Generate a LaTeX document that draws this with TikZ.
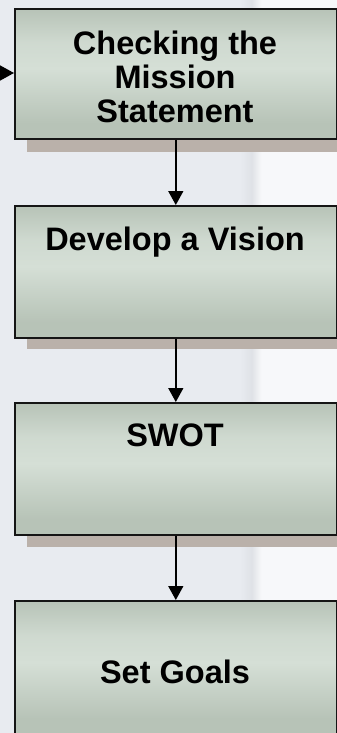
\documentclass[tikz,border=0pt]{standalone}
\usepackage{fontspec}
\setmainfont{Liberation Sans}
\usetikzlibrary{arrows.meta}

\definecolor{bgbase}{HTML}{E8EBF0}
\definecolor{bglight}{HTML}{F7F8FA}
\definecolor{bxdark}{HTML}{B7C3B7}
\definecolor{bxlight}{HTML}{D5DFD6}
\definecolor{shadowc}{HTML}{BAB1AA}
\definecolor{edge}{HTML}{151515}

% soft green-grey shading of the step boxes (bottom to top, path spans 25bp..75bp)
\pgfdeclareverticalshading{boxshade}{100bp}{%
  color(0bp)=(bxdark); color(25bp)=(bxdark); color(31bp)=(bxdark);
  color(52bp)=(bxlight); color(62bp)=(bxlight!80!bxdark);
  color(75bp)=(bxdark); color(100bp)=(bxdark)}
% lighter window area on the right of the backdrop
\pgfdeclarehorizontalshading{bgshade}{100bp}{%
  color(0bp)=(bgbase); color(25bp)=(bgbase); color(31bp)=(bgbase!96!black);
  color(36bp)=(bglight); color(100bp)=(bglight)}

\tikzset{
  stepbox/.style={draw=edge, line width=1.6pt, shading=boxshade,
    minimum width=322pt, minimum height=130pt, anchor=north west,
    inner sep=0pt},
  steptext/.style={font=\bfseries\fontsize{32.5}{34}\selectfont, text=black,
    align=center, anchor=base, inner sep=0pt},
  boxshadow/.style={fill=shadowc, draw=none},
  flow/.style={draw=black, line width=1.5pt,
    -{Triangle[width=15pt,length=14pt]}}
}

\begin{document}
\begin{tikzpicture}[x=1pt,y=-1pt]
  \useasboundingbox (0,0) rectangle (337,733);
  % backdrop
  \fill[bgbase] (0,0) rectangle (337,733);
  \shade[shading=bgshade] (240,0) rectangle (337,733);

  % shadows under the first three boxes
  \fill[boxshadow] (27,138) rectangle (337,152);
  \fill[boxshadow] (27,337) rectangle (337,349);
  \fill[boxshadow] (27,534) rectangle (337,547);

  % step boxes
  \node[stepbox] (b1) at (14,8) {};
  \node[stepbox, minimum height=132pt] (b2) at (14,205) {};
  \node[stepbox, minimum height=132pt] (b3) at (14,402) {};
  \node[stepbox, minimum height=134pt] (b4) at (14,600) {};

  % labels (multi-line base sits on the last line)
  \node[steptext] (t1) at (175,123) {Checking the\\Mission\\Statement};
  \node[steptext] (t2) at (175,250) {Develop a Vision};
  \node[steptext] (t3) at (175,446) {SWOT};
  \node[steptext] (t4) at (175,683) {Set Goals};

  % connectors
  \coordinate (in) at (0,73);
  \draw[flow] (in) -- (b1.west |- in);
  \draw[flow] (b1.south) -- (b2.north);
  \draw[flow] (b2.south) -- (b3.north);
  \draw[flow] (b3.south) -- (b4.north);
\end{tikzpicture}
\end{document}
